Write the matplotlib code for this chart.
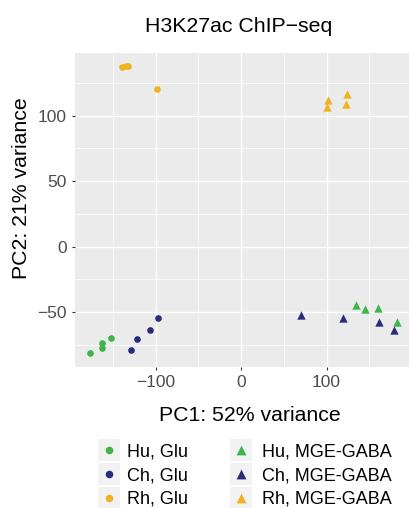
import matplotlib
matplotlib.use("Agg")
import matplotlib.pyplot as plt
from matplotlib.patches import Rectangle

plt.rcParams['font.family'] = ['Liberation Sans', 'DejaVu Sans']

# ---------------- data ----------------
groups = ["Hu, Glu", "Ch, Glu", "Rh, Glu", "Hu, MGE-GABA", "Ch, MGE-GABA", "Rh, MGE-GABA"]
colors = ["#3DB54A", "#272C7B", "#F0B21F", "#3DB54A", "#272C7B", "#F0B21F"]
markers = ["o", "o", "o", "^", "^", "^"]

hu_glu_x = [-176.6, -162.2, -162.2, -152.4]
hu_glu_y = [-81.4, -73.7, -77.1, -69.5]
ch_glu_x = [-129.0, -122.0, -106.4, -97.4]
ch_glu_y = [-78.9, -70.5, -63.4, -54.7]
rh_glu_x = [-139.0, -134.0, -132.0, -98.6]
rh_glu_y = [137.0, 138.0, 138.0, 120.6]
hu_gaba_x = [134.5, 144.7, 160.2, 182.5]
hu_gaba_y = [-44.7, -47.6, -47.0, -57.3]
ch_gaba_x = [70.2, 119.6, 161.8, 179.3]
ch_gaba_y = [-51.9, -54.4, -57.7, -63.6]
rh_gaba_x = [102.1, 100.2, 123.6, 122.5]
rh_gaba_y = [112.0, 106.9, 116.3, 109.2]

xs = [hu_glu_x, ch_glu_x, rh_glu_x, hu_gaba_x, ch_gaba_x, rh_gaba_x]
ys = [hu_glu_y, ch_glu_y, rh_glu_y, hu_gaba_y, ch_gaba_y, rh_gaba_y]

x_ticks = [-100, 0, 100]
y_ticks = [-50, 0, 50, 100]
title = "H3K27ac ChIP\u2212seq"
xlabel = "PC1: 52% variance"
ylabel = "PC2: 21% variance"

# ---------------- figure ----------------
W, H = 409, 508
fig = plt.figure(figsize=(W / 100, H / 100), dpi=100)
fig.patch.set_facecolor("white")

left, right, top, bottom = 75, 409, 53.3, 366.7
ax = fig.add_axes([left / W, 1 - bottom / H, (right - left) / W, (bottom - top) / H])
ax.set_facecolor("#EBEBEB")
for s in ax.spines.values():
    s.set_visible(False)

ax.set_xlim(-194.2, 196.5)
ax.set_ylim(-91.6, 147.6)
ax.set_xticks(x_ticks)
ax.set_yticks(y_ticks)
ax.set_xticklabels(["\u2212100", "0", "100"])
ax.set_yticklabels(["\u221250", "0", "50", "100"])
ax.set_xticks([-150, -50, 50, 150], minor=True)
ax.set_yticks([-75, -25, 25, 75, 125], minor=True)
ax.grid(which="major", color="white", linewidth=1.0)
ax.grid(which="minor", color="white", linewidth=0.5)
ax.set_axisbelow(True)
ax.tick_params(which="major", length=2.5, width=0.8, color="#333333",
               labelcolor="#4D4D4D", labelsize=12.5, pad=3.5)
ax.tick_params(which="minor", length=0)

for gx, gy, c, m in zip(xs, ys, colors, markers):
    size = 23 if m == "o" else 36
    ax.scatter(gx, gy, s=size, c=c, marker=m, linewidths=0, zorder=3)

fig.text(239 / W, 1 - 32.3 / H, title, ha="center", va="baseline", fontsize=15.3, color="black")
fig.text(250 / W, 1 - 421 / H, xlabel, ha="center", va="baseline", fontsize=15.3, color="black")
fig.text(27.3 / W, 1 - 188 / H, ylabel, ha="center", va="baseline", rotation=90,
         rotation_mode="anchor", fontsize=15.3, color="black")

# ---------------- legend ----------------
lax = fig.add_axes([0, 0, 1, 1])
lax.set_xlim(0, W)
lax.set_ylim(H, 0)
lax.axis("off")
col_key_x = [108.5, 241.3]
col_text_x = [127.3, 261.7]
row_y = [450, 474, 497.5]
key = 22
for i, (g, c, m) in enumerate(zip(groups, colors, markers)):
    col, row = i // 3, i % 3
    cx, cy = col_key_x[col], row_y[row]
    lax.add_patch(Rectangle((cx - key / 2, cy - key / 2), key, key,
                            facecolor="#F2F2F2", edgecolor="none"))
    lax.scatter([cx], [cy], s=(30 if m == "o" else 50), c=c, marker=m, linewidths=0)
    lax.text(col_text_x[col], cy, g, ha="left", va="center_baseline", fontsize=13, color="black")

fig.savefig("out.png", dpi=100)
